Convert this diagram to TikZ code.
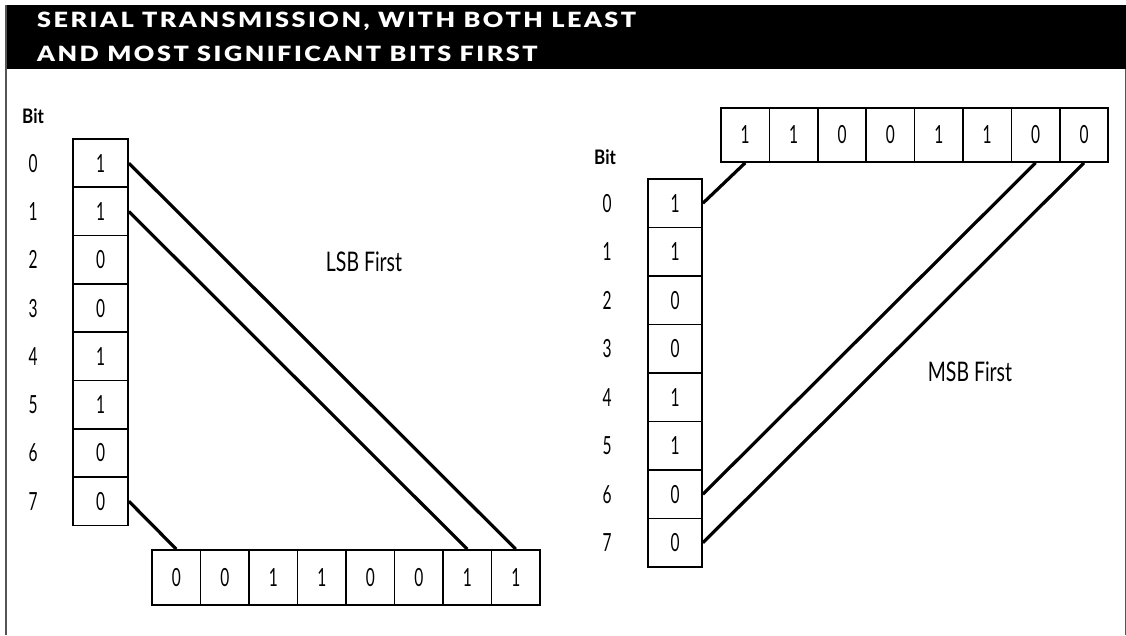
\documentclass[tikz,border=0pt]{standalone}
\usepackage{fontspec}
\setmainfont{Lato}
\newfontfamily\titlefont[LetterSpace=12,FakeStretch=1.2]{Lato Black}
\newfontfamily\narrowfont[FakeStretch=0.62]{Lato}
\newfontfamily\capfont[FakeStretch=0.72]{Lato}
\newfontfamily\narrowbold[FakeStretch=0.85]{Lato Bold}
\definecolor{framegray}{HTML}{555555}
\begin{document}
\begin{tikzpicture}[x=1pt,y=-1pt,
  cellv/.style={draw,line width=1.7pt,minimum width=55pt,minimum height=48.3pt,inner sep=0pt,font=\narrowfont\fontsize{25}{25}\selectfont},
  cellh/.style={draw,line width=1.7pt,minimum width=48.5pt,minimum height=55pt,inner sep=0pt,font=\narrowfont\fontsize{25}{25}\selectfont},
  bitnum/.style={inner sep=0pt,font=\narrowfont\fontsize{25}{25}\selectfont},
  bithead/.style={inner sep=0pt,font=\narrowbold\fontsize{20}{20}\selectfont},
  caption/.style={inner sep=0pt,font=\capfont\fontsize{27}{27}\selectfont},
  link/.style={line width=3.2pt}]
\useasboundingbox (0,0) rectangle (1126,635);
% frame and title bar
\fill[black] (5,5) rectangle (1126,69);
\draw[framegray,line width=2pt] (5.5,5) -- (5.5,635);
\draw[framegray,line width=1pt] (1125,69) -- (1125,635);
\node[anchor=base west,inner sep=0pt,text=white,font=\titlefont\fontsize{21}{21}\selectfont] (t1) at (37,27.5) {SERIAL TRANSMISSION, WITH BOTH LEAST};
\node[anchor=base west,inner sep=0pt,text=white,font=\titlefont\fontsize{21}{21}\selectfont] (t2) at (37,61.5) {AND MOST SIGNIFICANT BITS FIRST};
% left side
\node[bithead,anchor=base west] (lbit) at (22,123) {Bit};
\foreach \i/\v in {0/1,1/1,2/0,3/0,4/1,5/1,6/0,7/0}{
  \node[cellv] (L\i) at (100.5,{139+48.3*(\i+0.5)}) {\v};
  \node[bitnum] (ln\i) at (33,{139+48.3*(\i+0.5)}) {\i};
}
\foreach \i/\v in {0/0,1/0,2/1,3/1,4/0,5/0,6/1,7/1}{
  \node[cellh] (B\i) at ({152+48.5*(\i+0.5)},577.5) {\v};
}
\draw[link] (L0.east) -- (B7.north);
\draw[link] (L1.east) -- (B6.north);
\draw[link] (L7.east) -- (B0.north);
\node[caption] (lsb) at (364,262) {LSB First};
% right side
\node[bithead,anchor=base west] (rbit) at (594,164) {Bit};
\foreach \i/\v in {0/1,1/1,2/0,3/0,4/1,5/1,6/0,7/0}{
  \node[cellh,minimum height=54pt,minimum width=48.4pt] (T\i) at ({721+48.4*(\i+0.5)},135) {\v};
  \node[cellv,minimum width=54pt,minimum height=48.5pt] (R\i) at (675,{179+48.5*(\i+0.5)}) {\v};
  \node[bitnum] (rn\i) at (607,{179+48.5*(\i+0.5)}) {\i};
}
\draw[link] (R0.east) -- (T0.south);
\draw[link] (R6.east) -- (T6.south);
\draw[link] (R7.east) -- (T7.south);
\node[caption] (msb) at (970,372) {MSB First};
\end{tikzpicture}
\end{document}
